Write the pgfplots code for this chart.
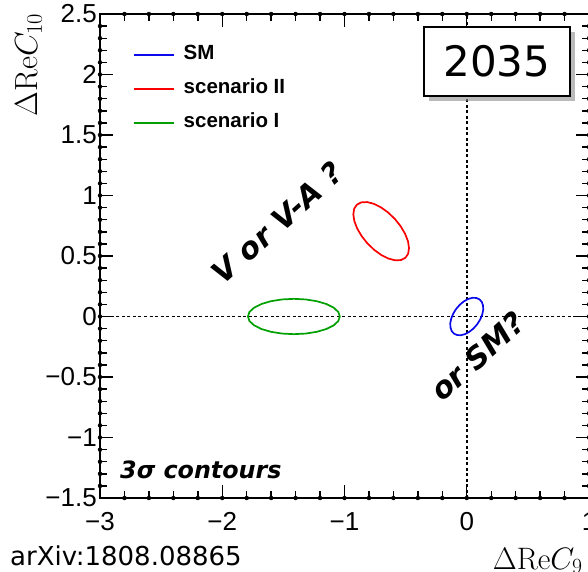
\RequirePackage{fix-cm}
\documentclass[border=0pt]{standalone}
\usepackage[no-math]{fontspec}
\setmainfont{Liberation Sans}
\newfontfamily\dejavu{DejaVu Sans}
\usepackage{pgfplots}
\usepackage{pgfplotstable}
\pgfplotsset{compat=1.18}
\usetikzlibrary{shadows}
\definecolor{smblue}{RGB}{10,10,235}
\definecolor{scred}{RGB}{250,0,0}
\definecolor{scgreen}{RGB}{0,160,0}

\pgfplotsset{
  mylegimg/.style={legend image code/.code={\draw[##1, line width=1.5pt] (0pt,0pt) -- (40pt,0pt);}}
}

% tick marks (position, bottom y, top y, length)
\pgfplotstableread{
x yb yt e
-2.8 -1.5 2.5 0.058
-2.6 -1.5 2.5 0.058
-2.4 -1.5 2.5 0.058
-2.2 -1.5 2.5 0.058
-2.0 -1.5 2.5 0.1077
-1.8 -1.5 2.5 0.058
-1.6 -1.5 2.5 0.058
-1.4 -1.5 2.5 0.058
-1.2 -1.5 2.5 0.058
-1.0 -1.5 2.5 0.1077
-0.8 -1.5 2.5 0.058
-0.6 -1.5 2.5 0.058
-0.4 -1.5 2.5 0.058
-0.2 -1.5 2.5 0.058
0.0 -1.5 2.5 0.1077
0.2 -1.5 2.5 0.058
0.4 -1.5 2.5 0.058
0.6 -1.5 2.5 0.058
0.8 -1.5 2.5 0.058
}\xticktab

\pgfplotstableread{
y xl xr e
-1.4 -3 1 0.0573
-1.3 -3 1 0.0573
-1.2 -3 1 0.0573
-1.1 -3 1 0.0573
-1.0 -3 1 0.1063
-0.9 -3 1 0.0573
-0.8 -3 1 0.0573
-0.7 -3 1 0.0573
-0.6 -3 1 0.0573
-0.5 -3 1 0.1063
-0.4 -3 1 0.0573
-0.3 -3 1 0.0573
-0.2 -3 1 0.0573
-0.1 -3 1 0.0573
0.0 -3 1 0.1063
0.1 -3 1 0.0573
0.2 -3 1 0.0573
0.3 -3 1 0.0573
0.4 -3 1 0.0573
0.5 -3 1 0.1063
0.6 -3 1 0.0573
0.7 -3 1 0.0573
0.8 -3 1 0.0573
0.9 -3 1 0.0573
1.0 -3 1 0.1063
1.1 -3 1 0.0573
1.2 -3 1 0.0573
1.3 -3 1 0.0573
1.4 -3 1 0.0573
1.5 -3 1 0.1063
1.6 -3 1 0.0573
1.7 -3 1 0.0573
1.8 -3 1 0.0573
1.9 -3 1 0.0573
2.0 -3 1 0.1063
2.1 -3 1 0.0573
2.2 -3 1 0.0573
2.3 -3 1 0.0573
2.4 -3 1 0.0573
}\yticktab

\pgfplotstableread{
x y
0.1042 0.1418
0.0783 0.1534
0.0471 0.1545
0.0127 0.1451
-0.0225 0.1257
-0.0563 0.0978
-0.0862 0.0633
-0.1103 0.0244
-0.1267 -0.0161
-0.1347 -0.0555
-0.1333 -0.0911
-0.1229 -0.1206
-0.1042 -0.1418
-0.0783 -0.1534
-0.0471 -0.1545
-0.0127 -0.1451
0.0225 -0.1257
0.0563 -0.0978
0.0862 -0.0633
0.1103 -0.0244
0.1267 0.0161
0.1347 0.0555
0.1333 0.0911
0.1229 0.1206
0.1042 0.1418
}\smtab

\pgfplotstableread{
x y
-0.5016 0.4854
-0.4794 0.5191
-0.4722 0.5654
-0.4805 0.6213
-0.5038 0.6828
-0.5405 0.7459
-0.5880 0.8062
-0.6431 0.8595
-0.7022 0.9024
-0.7611 0.9319
-0.8158 0.9458
-0.8626 0.9433
-0.8984 0.9246
-0.9206 0.8909
-0.9278 0.8446
-0.9195 0.7887
-0.8962 0.7272
-0.8595 0.6641
-0.8120 0.6038
-0.7569 0.5505
-0.6978 0.5076
-0.6389 0.4781
-0.5842 0.4642
-0.5374 0.4667
-0.5016 0.4854
}\redtab

\pgfplotstableread{
x y
-1.0380 0.0000
-1.0508 0.0378
-1.0884 0.0730
-1.1481 0.1032
-1.2260 0.1264
-1.3167 0.1410
-1.4140 0.1460
-1.5113 0.1410
-1.6020 0.1264
-1.6799 0.1032
-1.7396 0.0730
-1.7772 0.0378
-1.7900 0.0000
-1.7772 -0.0378
-1.7396 -0.0730
-1.6799 -0.1032
-1.6020 -0.1264
-1.5113 -0.1410
-1.4140 -0.1460
-1.3167 -0.1410
-1.2260 -0.1264
-1.1481 -0.1032
-1.0884 -0.0730
-1.0508 -0.0378
-1.0380 0.0000
}\greentab

\begin{document}
\begin{tikzpicture}
\begin{axis}[
  width=489pt, height=484pt, scale only axis,
  xmin=-3, xmax=1, ymin=-1.5, ymax=2.5,
  xtick={-3,-2,-1,0,1}, xticklabels={−3,−2,−1,0,1},
  ytick={-1.5,-1,-0.5,0,0.5,1,1.5,2,2.5},
  yticklabels={−1.5,−1,−0.5,0,0.5,1,1.5,2,2.5},
  tick align=inside,
  major tick length=13pt,
  axis line style={line width=1.8pt},
  every major tick/.append style={draw=black, line width=1.4pt},
  every tick label/.append style={inner sep=0pt, font=\fontsize{26}{26}\selectfont},
  xticklabel style={yshift=-14pt},
  yticklabel style={xshift=-3pt},
  xlabel={$\Delta\mathrm{Re}C_{9}$},
  xlabel style={at={(rel axis cs:0.803,-0.1467)}, anchor=base west, inner sep=0pt, font=\fontsize{31}{31}\selectfont},
  ylabel={$\Delta\mathrm{Re}C_{10}$},
  ylabel style={at={(rel axis cs:-0.1288,1.002)}, anchor=base east, inner sep=0pt, font=\fontsize{32}{32}\selectfont},
  legend style={at={(rel axis cs:0.0675,0.933)}, anchor=north west, draw=none, fill=none,
    inner sep=0pt, row sep=17pt, column sep=9pt,
    font=\bfseries\fontsize{20.5}{20.5}\selectfont,
    nodes={inner sep=0pt, text height=13pt, text depth=4pt}},
  legend cell align=left,
  mylegimg,
  clip=false,
]
% tick marks on all four sides
\addplot[only marks, mark=none, forget plot, error bars/.cd, y dir=plus, y explicit, error mark=none,
  error bar style={black, line width=1.4pt}] table[x=x, y=yb, y error=e] \xticktab;
\addplot[only marks, mark=none, forget plot, error bars/.cd, y dir=minus, y explicit, error mark=none,
  error bar style={black, line width=1.4pt}] table[x=x, y=yt, y error=e] \xticktab;
\addplot[only marks, mark=none, forget plot, error bars/.cd, x dir=plus, x explicit, error mark=none,
  error bar style={black, line width=1.4pt}] table[x=xl, y=y, x error=e] \yticktab;
\addplot[only marks, mark=none, forget plot, error bars/.cd, x dir=minus, x explicit, error mark=none,
  error bar style={black, line width=1.4pt}] table[x=xr, y=y, x error=e] \yticktab;

\addplot[color=black, line width=1.7pt, dash pattern=on 3pt off 2.5pt, forget plot] coordinates {(-3,0) (1,0)};
\addplot[color=black, line width=1.7pt, dash pattern=on 3pt off 2.5pt, forget plot] coordinates {(0,-1.5) (0,2.5)};
\addplot[color=smblue, line width=1.7pt] table[x=x,y=y] \smtab;
\addlegendentry{SM}
\addplot[color=scred, line width=1.7pt] table[x=x,y=y] \redtab;
\addlegendentry{scenario II}
\addplot[color=scgreen, line width=1.7pt] table[x=x,y=y] \greentab;
\addlegendentry{scenario I}

\node[draw, line width=1.8pt, fill=white, minimum width=146pt, minimum height=69pt, inner sep=0pt,
  drop shadow={shadow xshift=5pt, shadow yshift=-5pt, fill=black!45, opacity=0.6},
  font=\dejavu\fontsize{42}{42}\selectfont] at (rel axis cs:0.8116,0.9022) {2035};
\node[rotate=42, font=\dejavu\bfseries\itshape\fontsize{30}{30}\selectfont] at (axis cs:-1.547,0.775) {V or V-A ?};
\node[rotate=42, font=\dejavu\bfseries\itshape\fontsize{30}{30}\selectfont] at (axis cs:0.09,-0.33) {or SM?};
\node[anchor=base west, inner sep=0pt, font=\dejavu\bfseries\itshape\fontsize{23.8}{23.8}\selectfont] at (rel axis cs:0.0409,0.0393) {3σ contours};
\end{axis}
\node[anchor=base west, inner sep=0pt, font=\dejavu\fontsize{26}{26}\selectfont] at (-90pt,-67pt) {arXiv:1808.08865};
\pgfresetboundingbox
\useasboundingbox (-100pt,-73pt) rectangle (488pt,498pt);
\end{tikzpicture}
\end{document}
